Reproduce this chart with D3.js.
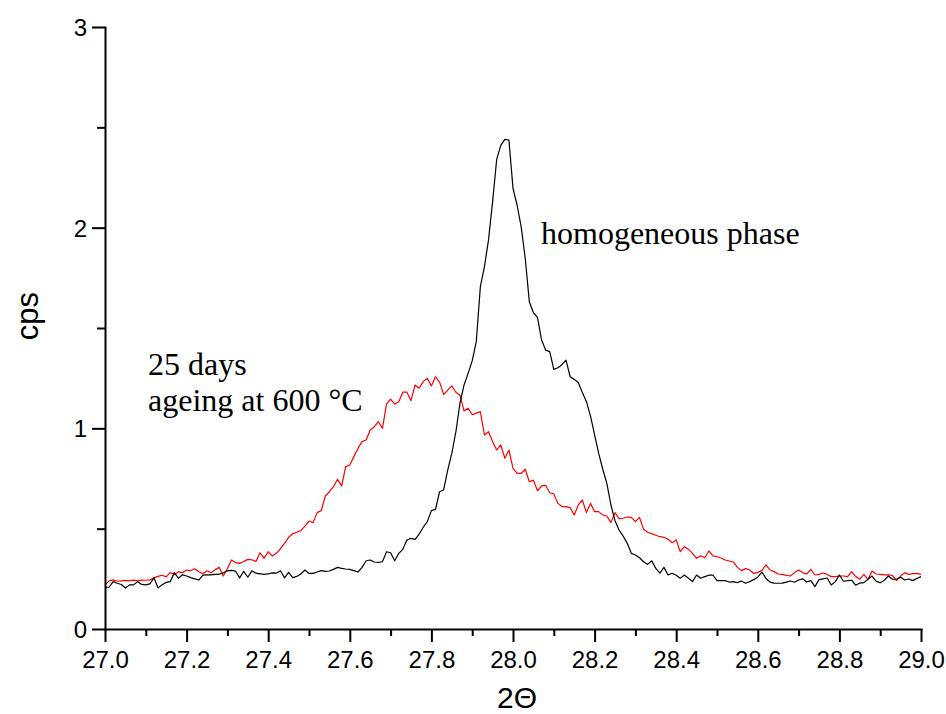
<!DOCTYPE html>
<html><head><meta charset="utf-8">
<script src="https://cdn.jsdelivr.net/npm/d3@7/dist/d3.min.js"></script>
<style>html,body{margin:0;padding:0;background:#fff;} svg{display:block;}</style>
</head><body>
<svg id="chart" width="946" height="714"></svg>
<script>
// 2-theta sampling grid (degrees)
const twoTheta = [
27.00,27.01,27.02,27.03,27.04,27.05,27.06,27.07,27.08,27.09,
27.10,27.11,27.12,27.13,27.14,27.15,27.16,27.17,27.18,27.19,
27.20,27.21,27.22,27.23,27.24,27.25,27.26,27.27,27.28,27.29,
27.30,27.31,27.32,27.33,27.34,27.35,27.36,27.37,27.38,27.39,
27.40,27.41,27.42,27.43,27.44,27.45,27.46,27.47,27.48,27.49,
27.50,27.51,27.52,27.53,27.54,27.55,27.56,27.57,27.58,27.59,
27.60,27.61,27.62,27.63,27.64,27.65,27.66,27.67,27.68,27.69,
27.70,27.71,27.72,27.73,27.74,27.75,27.76,27.77,27.78,27.79,
27.80,27.81,27.82,27.83,27.84,27.85,27.86,27.87,27.88,27.89,
27.90,27.91,27.92,27.93,27.94,27.95,27.96,27.97,27.98,27.99,
28.00,28.01,28.02,28.03,28.04,28.05,28.06,28.07,28.08,28.09,
28.10,28.11,28.12,28.13,28.14,28.15,28.16,28.17,28.18,28.19,
28.20,28.21,28.22,28.23,28.24,28.25,28.26,28.27,28.28,28.29,
28.30,28.31,28.32,28.33,28.34,28.35,28.36,28.37,28.38,28.39,
28.40,28.41,28.42,28.43,28.44,28.45,28.46,28.47,28.48,28.49,
28.50,28.51,28.52,28.53,28.54,28.55,28.56,28.57,28.58,28.59,
28.60,28.61,28.62,28.63,28.64,28.65,28.66,28.67,28.68,28.69,
28.70,28.71,28.72,28.73,28.74,28.75,28.76,28.77,28.78,28.79,
28.80,28.81,28.82,28.83,28.84,28.85,28.86,28.87,28.88,28.89,
28.90,28.91,28.92,28.93,28.94,28.95,28.96,28.97,28.98,28.99,
29.00];

// black: homogeneous phase (cps)
const homogeneous = [
0.208,0.208,0.236,0.228,0.222,0.204,0.220,0.220,0.236,0.222,
0.220,0.225,0.255,0.205,0.220,0.232,0.236,0.281,0.253,0.270,
0.264,0.256,0.250,0.244,0.268,0.270,0.270,0.272,0.273,0.280,
0.290,0.292,0.288,0.255,0.287,0.258,0.290,0.278,0.275,0.272,
0.275,0.280,0.278,0.290,0.255,0.282,0.256,0.262,0.274,0.294,
0.277,0.277,0.284,0.291,0.287,0.289,0.297,0.307,0.302,0.299,
0.297,0.291,0.284,0.307,0.340,0.344,0.334,0.332,0.335,0.385,
0.380,0.340,0.377,0.397,0.443,0.452,0.447,0.473,0.507,0.535,
0.590,0.596,0.684,0.693,0.792,0.875,0.983,1.125,1.216,1.274,
1.336,1.432,1.706,1.806,1.939,2.130,2.340,2.410,2.440,2.437,
2.196,2.113,2.005,1.847,1.631,1.576,1.553,1.440,1.390,1.382,
1.294,1.302,1.317,1.340,1.257,1.244,1.228,1.178,1.133,1.061,
0.967,0.875,0.796,0.726,0.618,0.540,0.493,0.463,0.427,0.377,
0.369,0.355,0.335,0.322,0.340,0.302,0.278,0.307,0.269,0.278,
0.268,0.253,0.269,0.253,0.236,0.269,0.253,0.261,0.268,0.269,
0.241,0.241,0.241,0.234,0.236,0.231,0.239,0.228,0.236,0.246,
0.258,0.284,0.252,0.234,0.229,0.228,0.229,0.234,0.239,0.233,
0.244,0.250,0.234,0.241,0.211,0.246,0.250,0.254,0.219,0.236,
0.269,0.238,0.241,0.243,0.218,0.229,0.231,0.248,0.264,0.238,
0.231,0.243,0.264,0.248,0.248,0.258,0.244,0.249,0.241,0.252,
0.261];

// red: 25 days ageing at 600 °C (cps)
const aged = [
0.220,0.240,0.245,0.238,0.240,0.242,0.240,0.244,0.240,0.244,
0.243,0.245,0.255,0.262,0.268,0.260,0.282,0.270,0.286,0.280,
0.294,0.290,0.300,0.285,0.275,0.290,0.280,0.296,0.307,0.264,
0.300,0.344,0.331,0.327,0.336,0.347,0.345,0.336,0.380,0.352,
0.385,0.364,0.377,0.400,0.427,0.457,0.475,0.482,0.490,0.513,
0.538,0.530,0.580,0.590,0.663,0.684,0.709,0.746,0.713,0.809,
0.817,0.859,0.900,0.934,0.942,0.992,1.008,1.033,1.000,1.121,
1.146,1.121,1.133,1.180,1.180,1.138,1.216,1.200,1.233,1.249,
1.211,1.257,1.230,1.168,1.190,1.212,1.180,1.165,1.087,1.100,
1.068,1.076,1.083,0.967,0.983,0.933,0.892,0.917,0.851,0.892,
0.801,0.776,0.776,0.796,0.734,0.742,0.689,0.713,0.716,0.679,
0.673,0.626,0.610,0.610,0.605,0.568,0.618,0.643,0.580,0.626,
0.585,0.585,0.568,0.563,0.530,0.580,0.550,0.552,0.558,0.556,
0.535,0.556,0.497,0.482,0.475,0.467,0.460,0.457,0.447,0.430,
0.444,0.385,0.410,0.397,0.377,0.352,0.365,0.355,0.389,0.364,
0.360,0.354,0.344,0.339,0.334,0.307,0.291,0.301,0.294,0.277,
0.282,0.292,0.320,0.294,0.286,0.274,0.272,0.267,0.264,0.281,
0.294,0.281,0.274,0.297,0.269,0.272,0.279,0.272,0.261,0.261,
0.264,0.264,0.261,0.286,0.261,0.249,0.272,0.247,0.289,0.274,
0.272,0.270,0.270,0.267,0.241,0.264,0.281,0.272,0.276,0.277,
0.272];

const xMajorTicks = [27.0,27.2,27.4,27.6,27.8,28.0,28.2,28.4,28.6,28.8,29.0];
const xTickLabels = ["27.0","27.2","27.4","27.6","27.8","28.0","28.2","28.4","28.6","28.8","29.0"];
const xMinorTicks = [27.1,27.3,27.5,27.7,27.9,28.1,28.3,28.5,28.7,28.9];
const yMajorTicks = [0,1,2,3];
const yTickLabels = ["0","1","2","3"];
const yMinorTicks = [0.5,1.5,2.5];
const xTitle = "2\u0398";
const yTitle = "cps";
const labelHomogeneous = "homogeneous phase";
const labelAged = ["25 days","ageing at 600 \u00B0C"];

const svg = d3.select("#chart");
const x = d3.scaleLinear().domain([27,29]).range([105,921]);
const y = d3.scaleLinear().domain([0,3]).range([629,27]);
const sans = "'Liberation Sans', Arial, Helvetica, sans-serif";
const serif = "'Liberation Serif', 'Times New Roman', serif";

// lines
const line = d3.line().x((d,i)=>x(twoTheta[i])).y(d=>y(d));
svg.append("path").datum(aged).attr("d", line)
  .attr("fill","none").attr("stroke","#ff0000").attr("stroke-width",1.2).attr("stroke-linejoin","round");
svg.append("path").datum(homogeneous).attr("d", line)
  .attr("fill","none").attr("stroke","#000").attr("stroke-width",1.2).attr("stroke-linejoin","round");

// x axis
const gxMinor = svg.append("g").attr("transform","translate(0,629)")
  .call(d3.axisBottom(x).tickValues(xMinorTicks).tickSize(7).tickSizeOuter(0).tickFormat(""));
gxMinor.select(".domain").remove();
gxMinor.selectAll("line").attr("stroke-width",2);
const gx = svg.append("g").attr("transform","translate(0,629)")
  .call(d3.axisBottom(x).tickValues(xMajorTicks).tickSize(13).tickSizeOuter(0)
        .tickFormat((d,i)=>xTickLabels[i]));
gx.select(".domain").attr("stroke-width",2);
gx.selectAll("line").attr("stroke-width",2);
gx.selectAll("text").attr("y",39).attr("dy",null)
  .attr("font-family",sans).attr("font-size",24).attr("fill","#000");

// y axis
const gyMinor = svg.append("g").attr("transform","translate(105,0)")
  .call(d3.axisLeft(y).tickValues(yMinorTicks).tickSize(8).tickSizeOuter(0).tickFormat(""));
gyMinor.select(".domain").remove();
gyMinor.selectAll("line").attr("stroke-width",2);
const gy = svg.append("g").attr("transform","translate(105,0)")
  .call(d3.axisLeft(y).tickValues(yMajorTicks).tickSize(13).tickSizeOuter(0).tickPadding(5)
        .tickFormat((d,i)=>yTickLabels[i]));
gy.select(".domain").attr("stroke-width",2);
gy.selectAll("line").attr("stroke-width",2);
gy.selectAll("text").attr("font-family",sans).attr("font-size",24).attr("fill","#000").attr("dy","0.36em");
svg.selectAll(".domain").attr("stroke-linecap","square");

// axis titles
svg.append("text").attr("x",517).attr("y",708).attr("text-anchor","middle")
  .attr("font-family",sans).attr("font-size",30).text(xTitle);
svg.append("text").attr("transform","translate(38,316) rotate(-90)").attr("text-anchor","middle")
  .attr("font-family",sans).attr("font-size",31).text(yTitle);

// annotations
svg.append("text").attr("x",541).attr("y",244)
  .attr("font-family",serif).attr("font-size",32).text(labelHomogeneous);
svg.append("text").attr("x",148).attr("y",375)
  .attr("font-family",serif).attr("font-size",32).text(labelAged[0]);
svg.append("text").attr("x",148).attr("y",411)
  .attr("font-family",serif).attr("font-size",32).text(labelAged[1]);
</script>
</body></html>
